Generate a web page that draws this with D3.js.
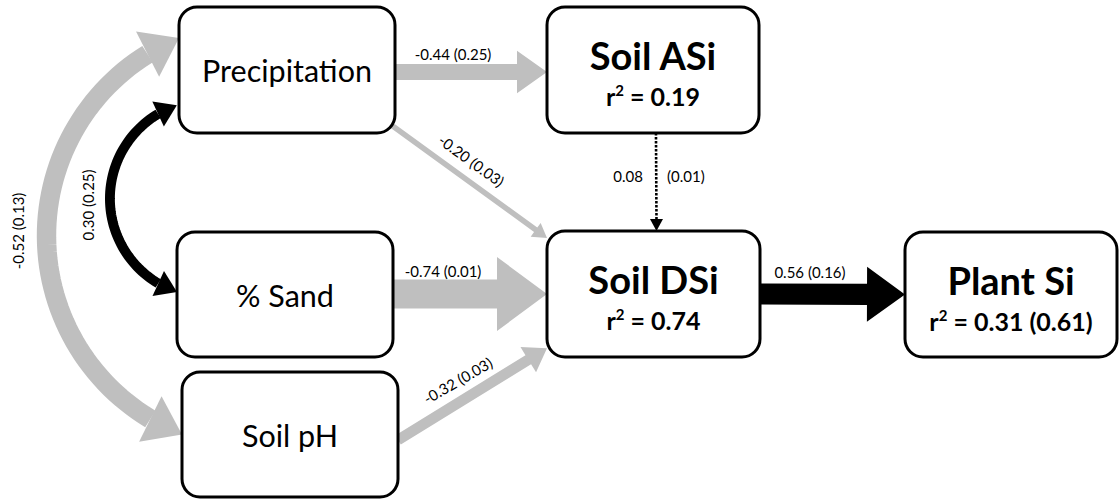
<!DOCTYPE html>
<html>
<head>
<meta charset="utf-8">
<script src="https://cdn.jsdelivr.net/npm/d3@7"></script>
<style>
  html, body { margin: 0; padding: 0; background: #fff; }
  svg { display: block; }
</style>
</head>
<body>
<svg id="chart" width="1119" height="499"></svg>
<script>
// ---- Model data -------------------------------------------------------
const nodeIds    = ["precip", "sand", "ph", "asi", "dsi", "plant"];
const nodeTitles = ["Precipitation", "% Sand", "Soil pH", "Soil ASi", "Soil DSi", "Plant Si"];
const nodeR2     = [null, null, null, "0.19", "0.74", "0.31 (0.61)"];

// directed paths (standardised coefficient, standard error)
const pathFrom = ["precip", "precip", "asi", "sand", "ph", "dsi"];
const pathTo   = ["asi", "dsi", "dsi", "dsi", "dsi", "plant"];
const pathCoef = [-0.44, -0.20, 0.08, -0.74, -0.32, 0.56];
const pathSE   = [0.25, 0.03, 0.01, 0.01, 0.03, 0.16];

// correlations between exogenous variables
const corrA    = ["precip", "precip"];
const corrB    = ["sand", "ph"];
const corrCoef = [0.30, -0.52];
const corrSE   = [0.25, 0.13];

// ---- Layout ---------------------------------------------------------
const boxes = {
  precip: {x: 179, y: 7,   w: 216, h: 126},
  sand:   {x: 177, y: 232, w: 216, h: 125},
  ph:     {x: 182, y: 372, w: 216, h: 125},
  asi:    {x: 547, y: 7,   w: 212, h: 126},
  dsi:    {x: 547, y: 231, w: 213, h: 126},
  plant:  {x: 905, y: 232, w: 212, h: 125}
};
// anchor fractions within boxes for each path: [fromFx, fromFy, toFx, toFy]
const pathAnchors = [
  [1, 0.516, 0, 0.516],
  [0.986, 0.94, 0, 0.056],
  [0.514, 1, 0.514, 0],
  [1, 0.496, 0, 0.5],
  [1, 0.544, 0, 0.93],
  [1, 0.5, 0, 0.5]
];
// label placement for each path: [cx, cy, rotation]
const pathLabelPos = [
  [453, 60, 0],
  [471, 161, 36],
  [655, 182, 0],
  [443, 277, 0],
  [458, 381, -30],
  [810, 278, 0]
];
const corrAnchors = [
  [-0.01, 0.78, 0, 0.48],
  [0, 0.246, 0, 0.5]
];
const corrBulge = [67, 134];
const corrLabelPos = [[88.5, 205, -90], [18.5, 231, -90]];

const GREY = "#bfbfbf";
const FONT = "Lato, 'Open Sans', sans-serif";

const svg = d3.select("#chart");
const gArrows = svg.append("g");
const gBoxes = svg.append("g");
const gLabels = svg.append("g");

// Stroke and head sizes scale with |coefficient|
const widthScale = d3.scaleLinear().domain([0.2, 0.74]).range([5.5, 29]);
const headLenScale = d3.scaleLinear().domain([0.2, 0.74]).range([14, 50]);
const headWScale = d3.scaleLinear().domain([0.2, 0.74]).range([17, 74]);
const colorOf = c => c < 0 ? GREY : "#000";
const fmt = v => v.toFixed(2);

function anchorPt(id, fx, fy) {
  const b = boxes[id];
  return [b.x + fx * b.w, b.y + fy * b.h];
}

const line = d3.line();

// Straight block arrow: shaft + triangular head as one polygon
function blockArrow(p0, p1, w, hl, hw) {
  const dx = p1[0] - p0[0], dy = p1[1] - p0[1];
  const L = Math.hypot(dx, dy);
  const u = [dx / L, dy / L], n = [-u[1], u[0]];
  const b = [p1[0] - u[0] * hl, p1[1] - u[1] * hl];
  const pt = (p, k) => [p[0] + n[0] * k, p[1] + n[1] * k];
  return line([pt(p0, w / 2), pt(b, w / 2), pt(b, hw / 2), p1,
               pt(b, -hw / 2), pt(b, -w / 2), pt(p0, -w / 2)]) + "Z";
}

// ---- Directed paths -------------------------------------------------
pathCoef.forEach((c, i) => {
  const a = pathAnchors[i];
  const p0 = anchorPt(pathFrom[i], a[0], a[1]);
  const p1 = anchorPt(pathTo[i], a[2], a[3]);
  const mag = Math.abs(c);
  if (mag < 0.1) {
    // weak path: dotted line with small head
    const hl = 12, hw = 13;
    gArrows.append("line")
      .attr("x1", p0[0]).attr("y1", p0[1])
      .attr("x2", p1[0]).attr("y2", p1[1] - hl)
      .attr("stroke", "#000").attr("stroke-width", 2.6)
      .attr("stroke-dasharray", "2.4,1.6");
    gArrows.append("path")
      .attr("d", line([[p1[0] - hw / 2, p1[1] - hl], [p1[0] + hw / 2, p1[1] - hl], p1]) + "Z")
      .attr("fill", "#000");
  } else {
    gArrows.append("path")
      .attr("d", blockArrow(p0, p1, widthScale(mag), headLenScale(mag), headWScale(mag)))
      .attr("fill", colorOf(c));
  }
});

// ---- Correlation arcs (double-headed) -------------------------------
function circleFrom3(a, b, c) {
  const d = 2 * (a[0] * (b[1] - c[1]) + b[0] * (c[1] - a[1]) + c[0] * (a[1] - b[1]));
  const a2 = a[0] * a[0] + a[1] * a[1], b2 = b[0] * b[0] + b[1] * b[1], c2 = c[0] * c[0] + c[1] * c[1];
  const ux = (a2 * (b[1] - c[1]) + b2 * (c[1] - a[1]) + c2 * (a[1] - b[1])) / d;
  const uy = (a2 * (c[0] - b[0]) + b2 * (a[0] - c[0]) + c2 * (b[0] - a[0])) / d;
  return [ux, uy, Math.hypot(a[0] - ux, a[1] - uy)];
}
const wrap = t => Math.atan2(Math.sin(t), Math.cos(t));

corrCoef.forEach((c, i) => {
  const an = corrAnchors[i];
  const p0 = anchorPt(corrA[i], an[0], an[1]);
  const p1 = anchorPt(corrB[i], an[2], an[3]);
  // apex sits to the left of the chord midpoint
  const apex = [(p0[0] + p1[0]) / 2 - corrBulge[i], (p0[1] + p1[1]) / 2];
  const [cx, cy, R] = circleFrom3(p0, apex, p1);
  const a0 = Math.atan2(p0[1] - cy, p0[0] - cx);
  const am = Math.atan2(apex[1] - cy, apex[0] - cx);
  const a1 = a0 + wrap(am - a0) + wrap(Math.atan2(p1[1] - cy, p1[0] - cx) - am);
  const s = Math.sign(a1 - a0);
  const mag = Math.abs(c);
  const w = widthScale(mag), hl = headLenScale(mag), hw = headWScale(mag);
  const dA = hl / R;
  const b0 = a0 + s * dA, b1 = a1 - s * dA;
  const P = t => [cx + R * Math.cos(t), cy + R * Math.sin(t)];
  const pts = d3.range(0, 61).map(k => P(b0 + (b1 - b0) * k / 60));
  gArrows.append("path")
    .attr("d", line(pts))
    .attr("fill", "none")
    .attr("stroke", colorOf(c))
    .attr("stroke-width", w);
  // heads at both ends
  [[p0, P(b0)], [p1, P(b1)]].forEach(([tip, base]) => {
    const ux = tip[0] - base[0], uy = tip[1] - base[1], l = Math.hypot(ux, uy);
    const nx = -uy / l, ny = ux / l;
    gArrows.append("path")
      .attr("d", line([tip, [base[0] + nx * hw / 2, base[1] + ny * hw / 2],
                       [base[0] - nx * hw / 2, base[1] - ny * hw / 2]]) + "Z")
      .attr("fill", colorOf(c));
  });
});

// ---- Boxes -----------------------------------------------------------
nodeIds.forEach((id, i) => {
  const b = boxes[id];
  gBoxes.append("rect")
    .attr("x", b.x).attr("y", b.y).attr("width", b.w).attr("height", b.h)
    .attr("rx", 18).attr("ry", 18)
    .attr("fill", "#fff").attr("stroke", "#000").attr("stroke-width", 3);
  const cx = b.x + b.w / 2;
  if (nodeR2[i] === null) {
    gBoxes.append("text")
      .attr("x", cx).attr("y", b.y + b.h / 2 + 12)
      .attr("text-anchor", "middle")
      .attr("font-family", FONT).attr("font-size", 30.5)
      .attr("fill", "#000")
      .text(nodeTitles[i]);
  } else {
    gBoxes.append("text")
      .attr("x", cx).attr("y", b.y + 63)
      .attr("text-anchor", "middle")
      .attr("font-family", FONT).attr("font-size", 38).attr("font-weight", 700)
      .attr("fill", "#000")
      .text(nodeTitles[i]);
    const t = gBoxes.append("text")
      .attr("x", cx).attr("y", b.y + 99)
      .attr("text-anchor", "middle")
      .attr("font-family", FONT).attr("font-size", 25).attr("font-weight", 700)
      .attr("fill", "#000");
    t.append("tspan").text("r");
    t.append("tspan").attr("font-size", 15).attr("dy", -10).text("2");
    t.append("tspan").attr("dy", 10).text(" = " + nodeR2[i]);
  }
});

// ---- Coefficient labels ------------------------------------------------
const labelFont = 15;
pathCoef.forEach((c, i) => {
  const [x, y, rot] = pathLabelPos[i];
  if (Math.abs(c) < 0.1) {
    gLabels.append("text")
      .attr("x", x - 12).attr("y", y).attr("text-anchor", "end")
      .attr("font-family", FONT).attr("font-size", labelFont).text(fmt(c));
    gLabels.append("text")
      .attr("x", x + 12).attr("y", y).attr("text-anchor", "start")
      .attr("font-family", FONT).attr("font-size", labelFont).text(`(${fmt(pathSE[i])})`);
  } else if (rot === 0) {
    gLabels.append("text")
      .attr("x", x).attr("y", y).attr("text-anchor", "middle")
      .attr("font-family", FONT).attr("font-size", labelFont)
      .text(`${fmt(c)} (${fmt(pathSE[i])})`);
  } else {
    gLabels.append("text")
      .attr("transform", `translate(${x},${y}) rotate(${rot})`)
      .attr("text-anchor", "middle").attr("dy", "0.35em")
      .attr("font-family", FONT).attr("font-size", labelFont)
      .text(`${fmt(c)} (${fmt(pathSE[i])})`);
  }
});
corrCoef.forEach((c, i) => {
  const [x, y, rot] = corrLabelPos[i];
  gLabels.append("text")
    .attr("transform", `translate(${x},${y}) rotate(${rot})`)
    .attr("text-anchor", "middle").attr("dy", "0.35em")
    .attr("font-family", FONT).attr("font-size", labelFont)
    .text(`${fmt(c)} (${fmt(corrSE[i])})`);
});
</script>
</body>
</html>
